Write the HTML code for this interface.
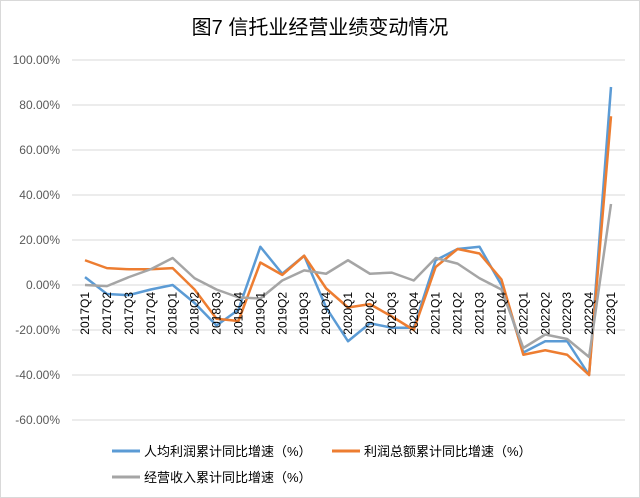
<!DOCTYPE html>
<html><head><meta charset="utf-8"><style>
body{margin:0;background:#fff;}
svg{display:block;font-family:"Liberation Sans","Noto Sans CJK SC",sans-serif;}
</style></head><body>
<svg width="640" height="498" viewBox="0 0 640 498">
<rect x="0.5" y="0.5" width="639" height="497" fill="#fff" stroke="#d9d9d9"/>
<text x="320" y="34" text-anchor="middle" font-size="20" fill="#000">图7  信托业经营业绩变动情况</text>
<g id="grid"></g><g id="yl"></g><g id="series"></g><g id="xl"></g>
<g font-size="13" fill="#000">
<line x1="112" y1="451" x2="140" y2="451" stroke="#5b9bd5" stroke-width="3"/>
<text x="144" y="456">人均利润累计同比增速（%）</text>
<line x1="332" y1="451" x2="360" y2="451" stroke="#ed7d31" stroke-width="3"/>
<text x="364" y="456">利润总额累计同比增速（%）</text>
<line x1="112" y1="477" x2="140" y2="477" stroke="#a5a5a5" stroke-width="3"/>
<text x="144" y="482">经营收入累计同比增速（%）</text>
</g>
</svg>
<script>
const categories=["2017Q1","2017Q2","2017Q3","2017Q4","2018Q1","2018Q2","2018Q3","2018Q4","2019Q1","2019Q2","2019Q3","2019Q4","2020Q1","2020Q2","2020Q3","2020Q4","2021Q1","2021Q2","2021Q3","2021Q4","2022Q1","2022Q2","2022Q3","2022Q4","2023Q1"];
const perCapitaProfit=[3.5,-4,-4.5,-2,0,-8,-18,-11,17,5,13,-10,-25,-17,-19,-19,11,16,17,0,-30,-25,-25,-40,88];
const totalProfit=[11,7.5,7,7,7.5,-2,-15,-16,10,4.5,13,-1.5,-10,-8.5,-14,-20,8,16,14,2.5,-31,-29,-31,-40,75];
const revenue=[0,-0.5,3.5,7,12,3,-2,-5.5,-6,2,6.5,5,11,5,5.5,2,12,9.5,3,-2,-28,-22,-24,-32,36];
const yTicks=[100,80,60,40,20,0,-20,-40,-60];
const NS="http://www.w3.org/2000/svg";
const y=v=>285-v*2.25;
const x=i=>85+i*(526/(categories.length-1));
function mk(t,a,p){const e=document.createElementNS(NS,t);for(const k in a)e.setAttribute(k,a[k]);p.appendChild(e);return e;}
const grid=document.getElementById('grid'),yl=document.getElementById('yl'),xl=document.getElementById('xl'),ser=document.getElementById('series');
yTicks.forEach(v=>{
 const l=mk('line',{x1:72,x2:625,y1:y(v),y2:y(v),stroke:'#d9d9d9','stroke-width':1},grid);
 
 
 const t=mk('text',{x:60,y:y(v)+4,'text-anchor':'end','font-size':12,fill:'#595959'},yl);
 t.textContent=v.toFixed(2)+'%';
 
 
});
[[perCapitaProfit,'#5b9bd5','line-per-capita-profit'],[totalProfit,'#ed7d31','line-total-profit'],[revenue,'#a5a5a5','line-revenue']].forEach(([d,c,n])=>{
 const p=mk('polyline',{points:d.map((v,i)=>x(i)+','+y(v)).join(' '),fill:'none',stroke:c,'stroke-width':2.5,'stroke-linejoin':'round'},ser);
 
 
});
categories.forEach((c,i)=>{
 const t=mk('text',{x:0,y:0,'font-size':12,fill:'#000','text-anchor':'end',transform:`translate(${x(i)+4},${292}) rotate(-90)`},xl);
 t.textContent=c;
 
 
});
</script>
</body></html>
